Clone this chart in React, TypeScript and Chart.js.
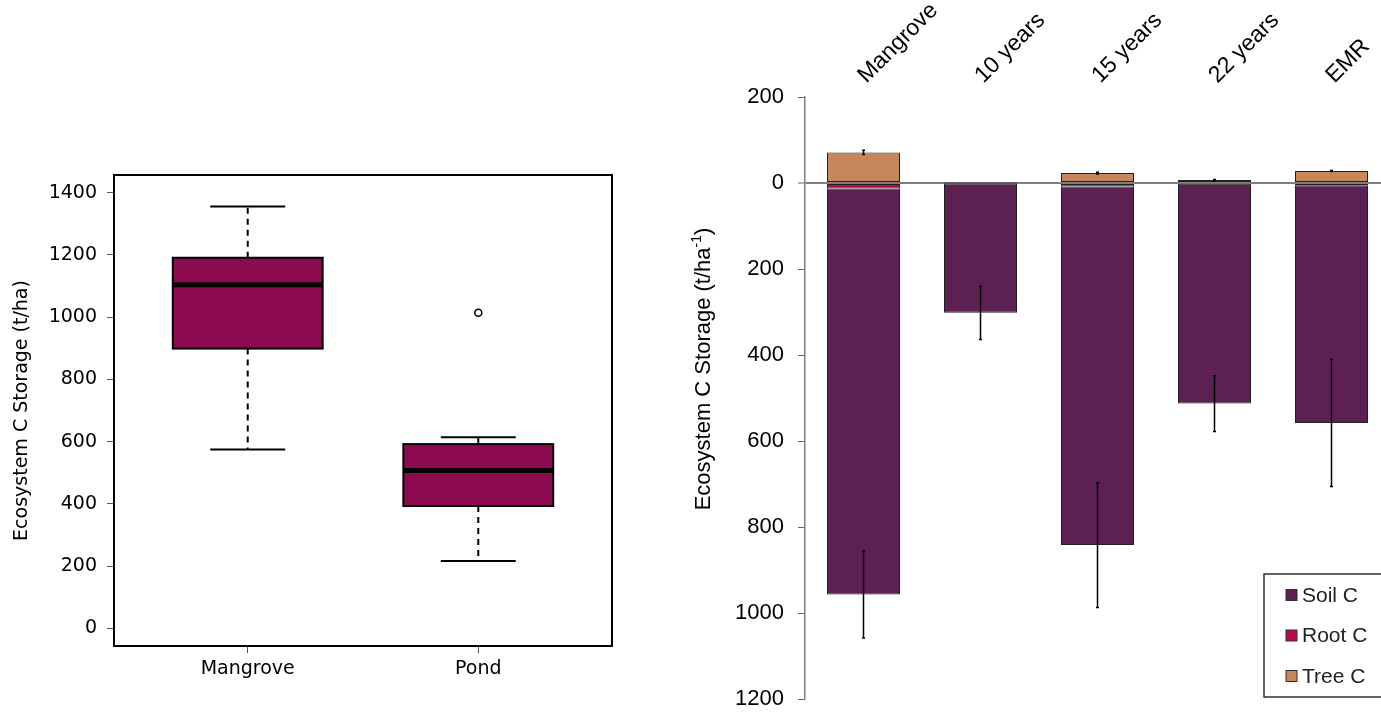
import React, { useEffect, useRef } from 'react';
import { Chart, registerables } from 'chart.js';

Chart.register(...registerables);

// ---------- Left panel: boxplot ----------
const boxCategories = ['Mangrove', 'Pond'];
const boxPositions = [1, 2];
const whiskerLow = [575, 216];
const quartile1 = [899, 393];
const medians = [1104, 507];
const quartile3 = [1191, 592];
const whiskerHigh = [1356, 614];
const outlierX = [2];
const outlierY = [1014];
const leftTicks = [0, 200, 400, 600, 800, 1000, 1200, 1400];

// ---------- Right panel: stacked bars ----------
const barCategories = ['Mangrove', '10 years', '15 years', '22 years', 'EMR'];
const soilC = [944, 301, 834, 511, 553];
const rootC = [13, 1, 8, 2, 5];
const treeC = [71, 1, 23, 7, 28];
const soilErr = [101, 62, 145, 65, 148];
const treeErr = [5, 0, 2, 1, 1];
const rightTicks = [-1200, -1000, -800, -600, -400, -200, 0, 200];
const legendOrder = ['Soil C', 'Root C', 'Tree C'];

const BOX_WIDTH = 0.65;
const STAPLE_WIDTH = 0.325;
const R_FONT = "'DejaVu Sans', sans-serif";
const XL_FONT = "'Liberation Sans', Arial, sans-serif";

const boxPlugin = {
  id: 'boxplotDraw',
  beforeDatasetsDraw(chart: any) {
    const { ctx, scales } = chart;
    const x = scales.x;
    const y = scales.y;
    ctx.save();
    boxPositions.forEach((p, i) => {
      const cx = x.getPixelForValue(p);
      const bl = x.getPixelForValue(p - BOX_WIDTH / 2);
      const br = x.getPixelForValue(p + BOX_WIDTH / 2);
      const sl = x.getPixelForValue(p - STAPLE_WIDTH / 2);
      const sr = x.getPixelForValue(p + STAPLE_WIDTH / 2);
      const yLo = y.getPixelForValue(whiskerLow[i]);
      const yQ1 = y.getPixelForValue(quartile1[i]);
      const yMed = y.getPixelForValue(medians[i]);
      const yQ3 = y.getPixelForValue(quartile3[i]);
      const yHi = y.getPixelForValue(whiskerHigh[i]);
      ctx.strokeStyle = '#000';
      ctx.lineWidth = 2;
      ctx.setLineDash([6, 5]);
      ctx.beginPath();
      ctx.moveTo(cx, yQ3);
      ctx.lineTo(cx, yHi);
      ctx.moveTo(cx, yQ1);
      ctx.lineTo(cx, yLo);
      ctx.stroke();
      ctx.setLineDash([]);
      ctx.beginPath();
      ctx.moveTo(sl, yHi);
      ctx.lineTo(sr, yHi);
      ctx.moveTo(sl, yLo);
      ctx.lineTo(sr, yLo);
      ctx.stroke();
      ctx.fillStyle = '#8B0A50';
      ctx.fillRect(bl, yQ3, br - bl, yQ1 - yQ3);
      ctx.lineWidth = 2;
      ctx.strokeRect(bl, yQ3, br - bl, yQ1 - yQ3);
      ctx.lineWidth = 5;
      ctx.beginPath();
      ctx.moveTo(bl, yMed);
      ctx.lineTo(br, yMed);
      ctx.stroke();
    });
    ctx.restore();
  },
  afterDraw(chart: any) {
    const { ctx, chartArea } = chart;
    ctx.save();
    ctx.strokeStyle = '#000';
    ctx.lineWidth = 2;
    ctx.strokeRect(chartArea.left, chartArea.top, chartArea.right - chartArea.left, chartArea.bottom - chartArea.top);
    ctx.restore();
  },
};

const errorBarPlugin = {
  id: 'errorBars',
  afterDatasetsDraw(chart: any) {
    const { ctx, scales } = chart;
    const x = scales.x;
    const y = scales.y;
    ctx.save();
    ctx.strokeStyle = '#000';
    ctx.lineWidth = 1.5;
    const drawBar = (cx: number, v: number, e: number) => {
      if (!e) return;
      const y1 = y.getPixelForValue(v - e);
      const y2 = y.getPixelForValue(v + e);
      ctx.beginPath();
      ctx.moveTo(cx, y1);
      ctx.lineTo(cx, y2);
      ctx.moveTo(cx - 1.5, y1);
      ctx.lineTo(cx + 1.5, y1);
      ctx.moveTo(cx - 1.5, y2);
      ctx.lineTo(cx + 1.5, y2);
      ctx.stroke();
    };
    barCategories.forEach((_, i) => {
      const cx = x.getPixelForValue(i);
      drawBar(cx, -(soilC[i] + rootC[i]), soilErr[i]);
      drawBar(cx, treeC[i], treeErr[i]);
    });
    ctx.restore();
  },
  afterDraw(chart: any) {
    const { ctx } = chart;
    ctx.save();
    const main = 'Ecosystem C Storage (t/ha';
    const sup = '-1';
    const end = ')';
    const f1 = `22px ${XL_FONT}`;
    const f2 = `14px ${XL_FONT}`;
    ctx.font = f1;
    const w1 = ctx.measureText(main).width;
    const w3 = ctx.measureText(end).width;
    ctx.font = f2;
    const w2 = ctx.measureText(sup).width;
    const total = w1 + w2 + w3;
    ctx.translate(14, 369);
    ctx.rotate(-Math.PI / 2);
    ctx.fillStyle = '#000';
    ctx.textBaseline = 'middle';
    ctx.textAlign = 'left';
    let px = -total / 2;
    ctx.font = f1;
    ctx.fillText(main, px, 0);
    px += w1;
    ctx.font = f2;
    ctx.fillText(sup, px, -7);
    px += w2;
    ctx.font = f1;
    ctx.fillText(end, px, 0);
    ctx.restore();

    ctx.save();
    const lx = 574;
    const ly = 574;
    const lb = 697;
    ctx.fillStyle = '#fff';
    ctx.fillRect(lx, ly, 140, lb - ly);
    ctx.strokeStyle = '#333';
    ctx.lineWidth = 1.5;
    ctx.strokeRect(lx, ly, 140, lb - ly);
    ctx.font = `21px ${XL_FONT}`;
    ctx.textBaseline = 'middle';
    ctx.textAlign = 'left';
    legendOrder.forEach((label, i) => {
      const ds = chart.data.datasets.find((d: any) => d.label === label);
      const yc = 595 + i * 40.5;
      ctx.fillStyle = ds.backgroundColor;
      ctx.fillRect(596, yc - 5.5, 11, 11);
      ctx.strokeStyle = '#333';
      ctx.lineWidth = 1;
      ctx.strokeRect(596, yc - 5.5, 11, 11);
      ctx.fillStyle = '#222';
      ctx.fillText(label, 612, yc + 1);
    });
    ctx.restore();
  },
};

function BoxChart() {
  const ref = useRef<HTMLCanvasElement>(null);
  useEffect(() => {
    if (!ref.current) return;
    const chart = new Chart(ref.current, {
      type: 'scatter',
      data: {
        datasets: [
          {
            label: 'outliers',
            data: outlierX.map((v, i) => ({ x: v, y: outlierY[i] })),
            pointRadius: 3.5,
            pointBorderWidth: 1.5,
            pointBorderColor: '#000',
            pointBackgroundColor: '#fff',
          },
        ],
      },
      options: {
        animation: false,
        responsive: false,
        events: [],
        layout: { padding: { top: 175, right: 78, left: 0, bottom: 0 } },
        plugins: { legend: { display: false }, tooltip: { enabled: false } },
        scales: {
          x: {
            type: 'linear',
            min: 0.42,
            max: 2.58,
            afterBuildTicks: (s: any) => {
              s.ticks = boxPositions.map((v) => ({ value: v }));
            },
            afterFit: (s: any) => {
              s.height = 67;
              s.paddingLeft = 0;
              s.paddingRight = 0;
            },
            ticks: {
              callback: (v: any) => boxCategories[boxPositions.indexOf(Number(v))] ?? '',
              font: { family: R_FONT, size: 19 },
              color: '#000',
              padding: 5,
              autoSkip: false,
              maxRotation: 0,
            },
            grid: { drawOnChartArea: false, tickLength: 7, tickColor: '#555', tickWidth: 1 },
            border: { display: false },
          },
          y: {
            type: 'linear',
            min: -57,
            max: 1457,
            afterBuildTicks: (s: any) => {
              s.ticks = leftTicks.map((v) => ({ value: v }));
            },
            afterFit: (s: any) => {
              s.width = 114;
              s.paddingTop = 0;
              s.paddingBottom = 0;
            },
            ticks: {
              font: { family: R_FONT, size: 19 },
              color: '#000',
              padding: 10,
              autoSkip: false,
              callback: (v: any) => String(v),
            },
            grid: { drawOnChartArea: false, tickLength: 7, tickColor: '#555', tickWidth: 1 },
            border: { display: false },
            title: {
              display: true,
              text: 'Ecosystem C Storage (t/ha)',
              font: { family: R_FONT, size: 19 },
              color: '#000',
              padding: { top: 11, bottom: 0 },
            },
          },
        },
      },
      plugins: [boxPlugin],
    } as any);
    return () => chart.destroy();
  }, []);
  return <canvas ref={ref} width={690} height={713} style={{ display: 'block' }} />;
}

function BarChart() {
  const ref = useRef<HTMLCanvasElement>(null);
  useEffect(() => {
    if (!ref.current) return;
    const common = { borderColor: '#222', borderWidth: 1, borderSkipped: false, stack: 'c' };
    const chart = new Chart(ref.current, {
      type: 'bar',
      data: {
        labels: barCategories,
        datasets: [
          { label: 'Root C', data: rootC.map((v) => -v), backgroundColor: '#B8094C', ...common },
          { label: 'Soil C', data: soilC.map((v) => -v), backgroundColor: '#5C2152', ...common },
          { label: 'Tree C', data: treeC, backgroundColor: '#C8875A', ...common },
        ],
      },
      options: {
        animation: false,
        responsive: false,
        events: [],
        barPercentage: 0.624,
        categoryPercentage: 1,
        layout: { padding: { top: 0, right: 0, left: 0, bottom: 14 } },
        plugins: { legend: { display: false }, tooltip: { enabled: false } },
        scales: {
          x: {
            position: 'top',
            stacked: true,
            afterFit: (s: any) => {
              s.height = 97;
              s.paddingLeft = 0;
              s.paddingRight = 0;
            },
            ticks: {
              font: { family: XL_FONT, size: 23 },
              color: '#000',
              minRotation: 45,
              maxRotation: 45,
              autoSkip: false,
              padding: 8,
              labelOffset: 18,
            },
            grid: { display: false, drawTicks: false },
            border: { display: false },
          },
          y: {
            stacked: true,
            min: -1200,
            max: 200,
            afterBuildTicks: (s: any) => {
              s.ticks = rightTicks.map((v) => ({ value: v }));
            },
            afterFit: (s: any) => {
              s.width = 115;
              s.paddingTop = 0;
              s.paddingBottom = 0;
            },
            ticks: {
              font: { family: XL_FONT, size: 22 },
              color: '#000',
              padding: 14,
              autoSkip: false,
              callback: (v: any) => String(Math.abs(Number(v))),
            },
            grid: {
              drawOnChartArea: true,
              color: (c: any) => (c.tick && c.tick.value === 0 ? '#7f7f7f' : 'rgba(0,0,0,0)'),
              lineWidth: (c: any) => (c.tick && c.tick.value === 0 ? 2 : 1),
              tickLength: 7,
              tickColor: '#666',
              tickWidth: 1,
            },
            border: { display: true, color: '#7f7f7f', width: 1.5 },
          },
        },
      },
      plugins: [errorBarPlugin],
    } as any);
    return () => chart.destroy();
  }, []);
  return <canvas ref={ref} width={700} height={713} style={{ display: 'block' }} />;
}

export default function App() {
  return (
    <div
      style={{
        position: 'fixed',
        left: 0,
        top: 0,
        width: 1381,
        height: 713,
        overflow: 'hidden',
        background: '#fff',
      }}
    >
      <div style={{ position: 'absolute', left: 0, top: 0, width: 690, height: 713 }}>
        <BoxChart />
      </div>
      <div style={{ position: 'absolute', left: 690, top: 0, width: 700, height: 713 }}>
        <BarChart />
      </div>
    </div>
  );
}
